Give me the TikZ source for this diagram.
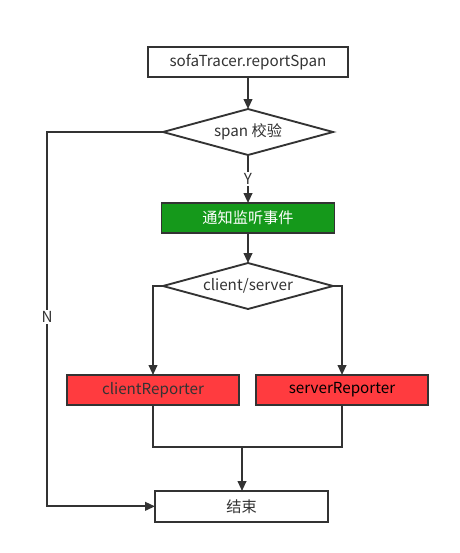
\documentclass[tikz,border=0pt]{standalone}
\usepackage{fontspec}
\setmainfont{Noto Sans CJK SC}
\usetikzlibrary{arrows.meta,positioning,shapes.geometric}
\definecolor{flowline}{HTML}{333333}
\definecolor{flowgreen}{HTML}{15991B}
\definecolor{flowred}{HTML}{FF3B3F}
\tikzset{
  stepbox/.style={
    draw=flowline,
    line width=1.4pt,
    fill=#1,
    minimum width=150pt,
    minimum height=22.5pt,
    inner sep=0pt,
    outer sep=0pt,
    text=flowline,
    font=\fontsize{11.4}{13}\selectfont
  },
  stepbox/.default=white,
  decide/.style={
    diamond,
    draw=flowline,
    line width=1.4pt,
    fill=white,
    minimum width=127.5pt,
    minimum height=34.5pt,
    aspect=4,
    inner sep=0pt,
    outer sep=0pt,
    text=flowline,
    font=\fontsize{11.4}{13}\selectfont
  },
  arrow/.style={-{Triangle[length=7.5pt,width=6.5pt]},line width=1.4pt,draw=flowline},
  link/.style={line width=1.4pt,draw=flowline},
  tag/.style={fill=white,inner sep=1pt,text=flowline,font=\fontsize{11.4}{13}\selectfont}
}
\begin{document}
\begin{tikzpicture}[x=0.75pt,y=-0.75pt]
  \useasboundingbox (0,0) rectangle (460,553);
  \node[stepbox] (report) at (248,62) {sofaTracer.reportSpan};
  \node[decide, below=24pt of report] (check) {span 校验};
  \node[stepbox=flowgreen, text=white, minimum width=129.75pt, below=36pt of check] (notify) {通知监听事件};
  \node[decide, below=22.5pt of notify] (kind) {client/server};
  \node[stepbox=flowred, minimum width=129pt, below=49.5pt of kind, xshift=-71.25pt] (client) {clientReporter};
  \node[stepbox=flowred, text=black, minimum width=129pt, below=49.5pt of kind, xshift=70.5pt] (server) {serverReporter};
  \node[stepbox, minimum width=129.75pt, minimum height=23pt, below=64.5pt of client, xshift=66.375pt] (finish) {结束};

  \coordinate (join) at (242,447);
  \coordinate (nturn) at (47,132);

  \draw[arrow] (report) -- (check);
  \draw[arrow] (check) -- node[tag]{Y} (notify);
  \draw[arrow] (notify) -- (kind);
  \draw[arrow] (kind.west) -| (client);
  \draw[arrow] (kind.east) -| (server);
  \draw[link] (client.south) |- (join) -| (server.south);
  \draw[arrow] (join) -- (join |- finish.north);
  \draw[arrow] (check.west) -- (nturn) |- node[tag,pos=0.247]{N} (finish.west);
\end{tikzpicture}
\end{document}
